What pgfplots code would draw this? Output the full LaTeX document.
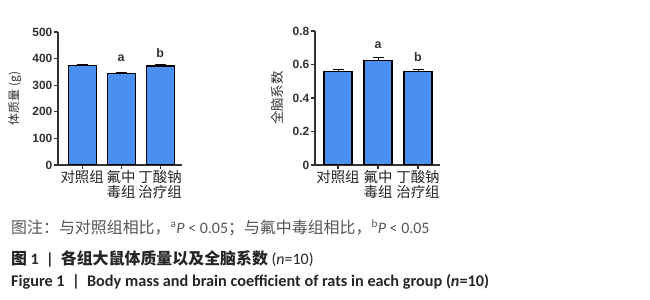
\documentclass[border=0pt]{standalone}
\usepackage{pgfplots}
\pgfplotsset{compat=1.18}
\usepackage{fontspec}
\setmainfont{Liberation Sans}
\newfontfamily\cjk{Noto Sans CJK SC}
\newfontfamily\calib{Carlito}
\definecolor{barblue}{HTML}{4A90F0}
\definecolor{axgray}{HTML}{333333}
\definecolor{capgray}{HTML}{555555}
\begin{document}
\begin{tikzpicture}
\useasboundingbox (0bp,0bp) rectangle (650bp,300bp);
\coordinate (A) at (58bp,135bp);
\coordinate (B) at (315bp,135bp);
\pgfplotsset{
  myax/.style={
    scale only axis,
    axis lines=left,
    axis line style={axgray, line width=1.4bp, -},
    ybar, bar width=28bp,
    xtick=data,
    xticklabels={{对照组},{氟中\\毒组},{丁酸钠\\治疗组}},
    xticklabel style={font=\cjk\fontsize{14.5}{15}\selectfont, align=center, text=black!85, inner sep=1bp},
    yticklabel style={font=\bfseries\fontsize{12}{13}\selectfont, text=axgray, inner sep=1.5bp},
    /pgf/number format/assume math mode=true,
    tick style={axgray, line width=1.2bp},
    major tick length=4bp,
    tick align=outside,
    xtick pos=bottom, ytick pos=left,
    ymin=0,
    error bars/y dir=plus, error bars/y explicit,
    error bars/error bar style={black, line width=0.8bp},
    error bars/error mark options={rotate=90, mark size=5.5bp, line width=0.8bp},
  }
}
\begin{axis}[myax, at={(A)}, anchor=south west,
  width=124bp, height=133bp,
  xmin=-0.62, xmax=2.56, ymax=500, ytick={0,100,...,500},
  ylabel={体质量 (g)}, ylabel style={font=\cjk\fontsize{12}{14}\selectfont, text=axgray, at={(axis description cs:-0.347,0.5)}, anchor=center}]
\addplot[fill=barblue, draw=black, line width=1.2bp] coordinates {(0,375) +- (0,5) (1,345) +- (0,4) (2,372) +- (0,6)};
\node[font=\bfseries\fontsize{12.5}{14}\selectfont, text=axgray] at (axis cs:1,402) {a};
\node[font=\bfseries\fontsize{12.5}{14}\selectfont, text=axgray] at (axis cs:2,421) {b};
\end{axis}
\begin{axis}[myax, at={(B)}, anchor=south west,
  width=125bp, height=134bp,
  xmin=-0.575, xmax=2.55, ymax=0.8, ytick={0,0.2,...,0.8},
  yticklabel style={/pgf/number format/.cd, fixed, precision=1},
  ylabel={全脑系数}, ylabel style={font=\cjk\fontsize{13.5}{14}\selectfont, text=axgray, at={(axis description cs:-0.30,0.5)}, anchor=center}]
\addplot[fill=barblue, draw=black, line width=1.2bp] coordinates {(0,0.56) +- (0,0.008) (1,0.625) +- (0,0.018) (2,0.56) +- (0,0.01)};
\node[font=\bfseries\fontsize{12.5}{14}\selectfont, text=axgray] at (axis cs:1,0.715) {a};
\node[font=\bfseries\fontsize{12.5}{14}\selectfont, text=axgray] at (axis cs:2,0.645) {b};
\end{axis}
\node[anchor=west, inner sep=0, text=capgray, font=\fontsize{16}{18}\selectfont] at (11bp,72bp)
  {\cjk 图注：与对照组相比，\calib\textsuperscript{a}\textit{P} < 0.05\cjk；与氟中毒组相比，\calib\textsuperscript{b}\textit{P} < 0.05};
\node[anchor=west, inner sep=0, text=black!85, font=\fontsize{16}{18}\selectfont] at (11bp,41bp)
  {\cjk\bfseries 图\calib\bfseries~1~~|~~\cjk\bfseries 各组大鼠体质量以及全脑系数\calib\mdseries~(\textit{n}=10)};
\node[anchor=west, inner sep=0, text=black!85, font=\fontsize{16.3}{18}\selectfont] at (11bp,18bp)
  {\calib\bfseries Figure 1~~|~~Body mass and brain coefficient of rats in each group (\textit{n}=10)};
\end{tikzpicture}
\end{document}
